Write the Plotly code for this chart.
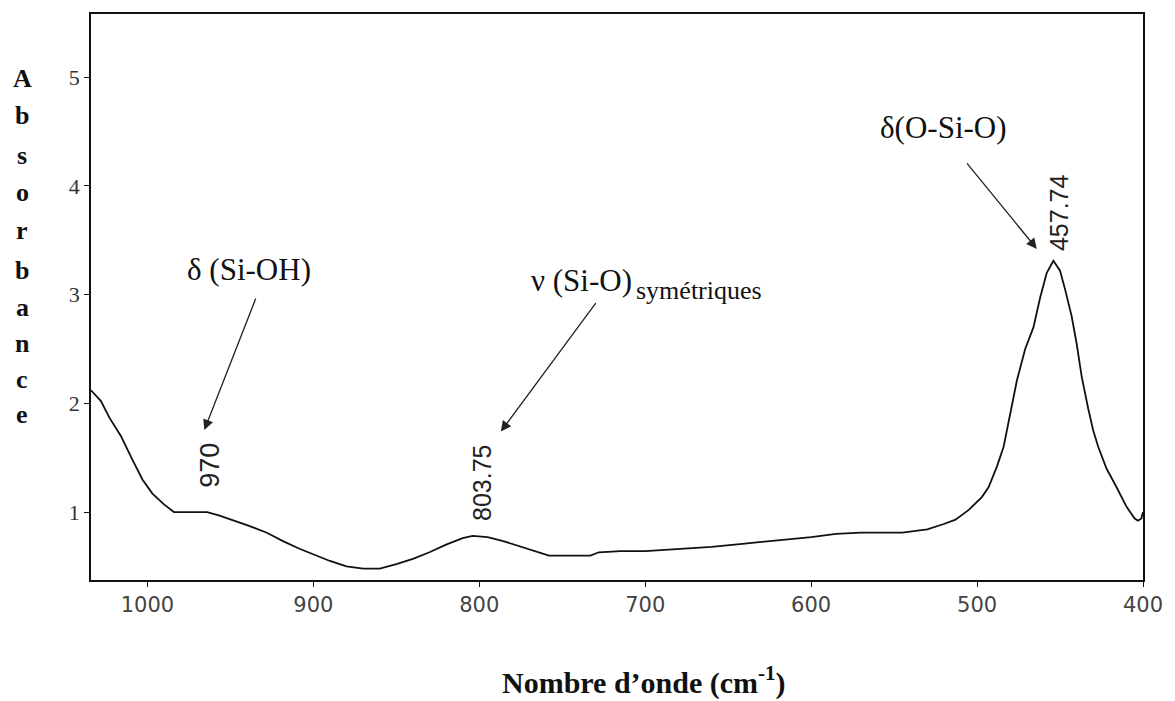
import plotly.graph_objects as go

# ---- data ----
wavenumber = [1034, 1028, 1023, 1016, 1009, 1003, 997, 990, 984, 975, 964, 957, 949, 940,
              928, 918, 908, 900, 890, 880, 870, 860, 850, 840, 830, 820, 810, 804, 795,
              785, 775, 765, 758, 745, 733, 728, 715, 700, 680, 660, 640, 620, 600, 585,
              570, 545, 530, 520, 513, 505, 497, 493, 488, 484, 480, 476, 471, 466, 462,
              458, 454, 450, 447, 443, 440, 437, 433, 430, 427, 422, 416, 410, 405, 403,
              401, 400]
absorbance = [2.12, 2.02, 1.87, 1.70, 1.48, 1.30, 1.17, 1.07, 1.00, 1.00, 1.00, 0.97, 0.93, 0.88,
              0.81, 0.73, 0.66, 0.61, 0.55, 0.50, 0.48, 0.48, 0.52, 0.57, 0.63, 0.70, 0.76, 0.78, 0.77,
              0.73, 0.68, 0.63, 0.60, 0.60, 0.60, 0.63, 0.64, 0.64, 0.66, 0.68, 0.71, 0.74, 0.77, 0.80,
              0.81, 0.81, 0.84, 0.89, 0.93, 1.02, 1.14, 1.23, 1.42, 1.60, 1.90, 2.21, 2.50, 2.70, 2.97,
              3.20, 3.31, 3.22, 3.05, 2.80, 2.55, 2.25, 1.95, 1.75, 1.60, 1.40, 1.23, 1.05, 0.94, 0.92,
              0.94, 1.00]

x_ticks = [1000, 900, 800, 700, 600, 500, 400]
x_tick_labels = ["1000", "900", "800", "700", "600", "500", "400"]
y_ticks = [1, 2, 3, 4, 5]
y_tick_labels = ["1", "2", "3", "4", "5"]

peak_labels = ["970", "803.75", "457.74"]
peak_pos = [(962, 1.43), (798.8, 1.27), (450.6, 3.75)]
peak_sizes = [27, 25, 25]

band_labels = ["δ (Si-OH)", "ν (Si-O)", "symétriques", "δ(O-Si-O)"]
band_pos = [(938.6, 3.23), (770, 3.13), (707, 3.04), (520.5, 4.54)]
band_anchor = ["center", "left", "left", "center"]
band_sizes = [31, 31, 26, 31]

arrow_tips = [(965.7, 1.754), (787, 1.74), (464, 3.42)]
arrow_tails_px = [(52, -133), (96, -130), (-71, -87)]

y_title_letters = list("Absorbance")
y_title_px = [78, 115, 155, 192, 230, 270, 307, 343, 380, 415]

# ---- layout geometry ----
L, T, R, B = 91, 14, 1147, 580
W, H = 1175, 701

fig = go.Figure()
fig.add_trace(go.Scatter(x=wavenumber, y=absorbance, mode="lines",
                         line=dict(color="#111", width=1.8), showlegend=False))

ann = []
serif = "Liberation Serif, Times New Roman, serif"
narrow = "Liberation Sans Narrow, Arial Narrow, Liberation Sans, Arial, sans-serif"

for txt, (x, y), s in zip(peak_labels, peak_pos, peak_sizes):
    ann.append(dict(x=x, y=y, xref="x", yref="y", text=txt, showarrow=False,
                    textangle=-90, font=dict(family=narrow, size=s, color="#222")))

for txt, (x, y), a, s in zip(band_labels, band_pos, band_anchor, band_sizes):
    ann.append(dict(x=x, y=y, xref="x", yref="y", text=txt, showarrow=False,
                    xanchor=a, yanchor="middle",
                    font=dict(family=serif, size=s, color="#111")))

for (x, y), (ax, ay) in zip(arrow_tips, arrow_tails_px):
    ann.append(dict(x=x, y=y, xref="x", yref="y", ax=ax, ay=ay, text="",
                    showarrow=True, arrowhead=2, arrowsize=1.6, arrowwidth=1.3,
                    arrowcolor="#222", standoff=0))

for ch, py in zip(y_title_letters, y_title_px):
    ann.append(dict(x=(22 - L) / (R - L), y=(B - py) / (B - T), xref="paper", yref="paper",
                    text=f"<b>{ch}</b>", showarrow=False, xanchor="center", yanchor="middle",
                    font=dict(family=serif, size=26, color="#111")))

ann.append(dict(x=(646 - L) / (R - L), y=(B - 680) / (B - T), xref="paper", yref="paper",
                text="<b>Nombre d’onde (cm<sup>-1</sup>)</b>", showarrow=False,
                xanchor="center", yanchor="middle",
                font=dict(family=serif, size=30, color="#111")))

fig.update_layout(
    width=W, height=H,
    margin=dict(l=L, r=W - R, t=T, b=H - B),
    paper_bgcolor="white", plot_bgcolor="white",
    annotations=ann,
    xaxis=dict(range=[1034, 400], tickmode="array", tickvals=x_ticks, ticktext=x_tick_labels,
               showgrid=False, zeroline=False, showline=True, linecolor="#111", linewidth=1.6,
               mirror=True, ticks="outside", ticklen=5, tickcolor="#111",
               tickfont=dict(family="DejaVu Sans, sans-serif", size=21, color="#444")),
    yaxis=dict(range=[0.375, 5.58], tickmode="array", tickvals=y_ticks, ticktext=y_tick_labels,
               showgrid=False, zeroline=False, showline=True, linecolor="#111", linewidth=1.6,
               mirror=True, ticks="outside", ticklen=5, tickcolor="#111",
               tickfont=dict(family=serif, size=22, color="#333")),
)

fig.write_html("out.html")
